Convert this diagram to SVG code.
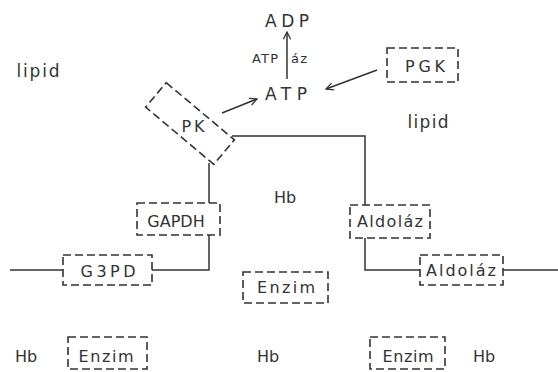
<svg xmlns="http://www.w3.org/2000/svg" width="558" height="372" viewBox="0 0 558 372">
<style>
.bg{fill:#ffffff}
.box{fill:none;stroke:#333;stroke-width:1.6;stroke-dasharray:8 4}
.ln{fill:none;stroke:#333;stroke-width:1.5}
.t{font-family:"DejaVu Sans","Liberation Sans",sans-serif;font-size:16px;fill:#333;text-anchor:middle}
.b{font-size:17px}
.s{font-family:"DejaVu Sans","Liberation Sans",sans-serif;font-size:13px;fill:#333}
</style>
<defs>
<marker id="ah" viewBox="0 0 10 10" refX="9" refY="5" markerWidth="9" markerHeight="9" orient="auto" markerUnits="userSpaceOnUse">
<path d="M1,1 L9,5 L1,9" fill="none" stroke="#333" stroke-width="1.4"/>
</marker>
</defs>
<rect class="bg" x="0" y="0" width="558" height="372"/>
<g id="connectors">
<path class="ln" d="M232,136 H365 V205"/>
<path class="ln" d="M209,163 V203"/>
<path class="ln" d="M209,235 V270 H152"/>
<path class="ln" d="M10,270 H63"/>
<path class="ln" d="M365,238 V270 H420"/>
<path class="ln" d="M503,270 H558"/>
<path class="ln" d="M287,79 V32" marker-end="url(#ah)"/>
<path class="ln" d="M222,113 L257,99" marker-end="url(#ah)"/>
<path class="ln" d="M377,70 L326,89" marker-end="url(#ah)"/>
</g>
<g id="labels">
<text class="t b" x="287" y="27" textLength="44" lengthAdjust="spacing">ADP</text>
<text class="s" x="252" y="63" textLength="26" lengthAdjust="spacing">ATP</text>
<text class="s" x="291" y="63" textLength="16" lengthAdjust="spacing">áz</text>
<text class="t b" x="286" y="100" textLength="42" lengthAdjust="spacing">ATP</text>
<text class="t b" x="38" y="77" textLength="43" lengthAdjust="spacing">lipid</text>
<text class="t b" x="428" y="128" textLength="41" lengthAdjust="spacing">lipid</text>
<text class="t" x="285" y="203">Hb</text>
<text class="t" x="26" y="362">Hb</text>
<text class="t" x="268" y="362">Hb</text>
<text class="t" x="484" y="362">Hb</text>
</g>
<g id="PK">
<rect class="box" x="145.5" y="107.5" width="89" height="32" transform="rotate(40 190 123.5)"/>
<text class="t" x="193" y="132" textLength="23" lengthAdjust="spacing">PK</text>
</g>
<g id="PGK">
<rect class="box" x="387" y="48" width="71" height="34"/>
<text class="t" x="425" y="72" textLength="40" lengthAdjust="spacing">PGK</text>
</g>
<g id="GAPDH">
<rect class="box" x="137" y="203" width="83" height="32"/>
<text class="t" x="176" y="227">GAPDH</text>
</g>
<g id="G3PD">
<rect class="box" x="63" y="255" width="89" height="30"/>
<text class="t" x="108" y="277" textLength="55" lengthAdjust="spacing">G3PD</text>
</g>
<g id="Aldolaz1">
<rect class="box" x="350" y="205" width="80" height="33"/>
<text class="t" x="390" y="227" textLength="66" lengthAdjust="spacing">Aldoláz</text>
</g>
<g id="Aldolaz2">
<rect class="box" x="420" y="255" width="83" height="30"/>
<text class="t" x="461" y="276" textLength="70" lengthAdjust="spacing">Aldoláz</text>
</g>
<g id="EnzimMid">
<rect class="box" x="243" y="272" width="85" height="31"/>
<text class="t" x="286" y="293" textLength="58" lengthAdjust="spacing">Enzim</text>
</g>
<g id="EnzimLeft">
<rect class="box" x="68" y="337" width="79" height="32"/>
<text class="t" x="106" y="362" textLength="55" lengthAdjust="spacing">Enzim</text>
</g>
<g id="EnzimRight">
<rect class="box" x="370" y="337" width="75" height="32"/>
<text class="t" x="408" y="362" textLength="51" lengthAdjust="spacing">Enzim</text>
</g>
</svg>
